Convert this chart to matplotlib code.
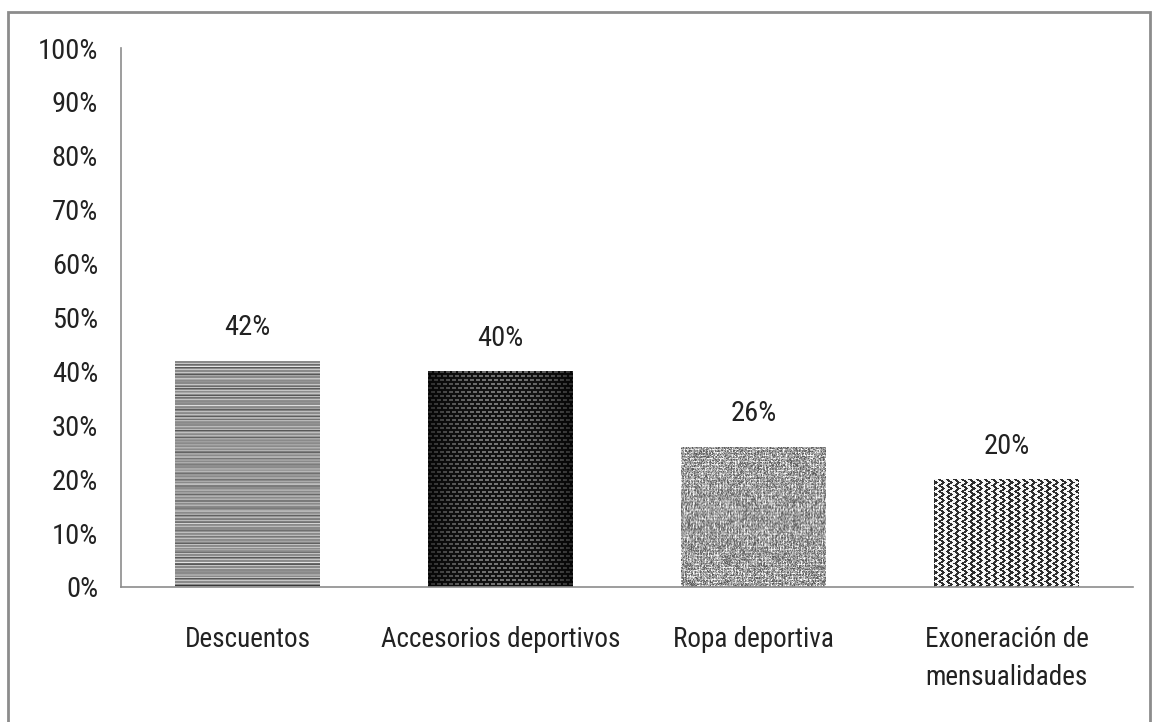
import numpy as np
import matplotlib.pyplot as plt
from matplotlib.patches import Rectangle
from matplotlib import font_manager

categories = ['Descuentos', 'Accesorios deportivos', 'Ropa deportiva', 'Exoneración de\nmensualidades']
values = [42, 40, 26, 20]
ticks = [0, 10, 20, 30, 40, 50, 60, 70, 80, 90, 100]

# narrow sans if one is around
fonts = font_manager.fontManager.ttflist
names = {f.name for f in fonts}
stretch = 'normal'
family = 'DejaVu Sans'
for cand in ['Liberation Sans Narrow', 'Roboto Condensed', 'Open Sans Condensed']:
    if cand in names:
        family = cand
        break
else:
    if any(f.name == 'DejaVu Sans' and f.stretch == 'condensed' for f in fonts):
        stretch = 'condensed'
plt.rcParams['font.family'] = [family, 'DejaVu Sans']
plt.rcParams['font.stretch'] = stretch
fs = 20.5 if family == 'Roboto Condensed' else 16.5
fs_cat = fs - 1

fig = plt.figure(figsize=(11.58, 7.22), dpi=100)
ax = fig.add_axes([0.1045, 0.187, 0.874, 0.7465])

x = np.arange(len(categories))
bars = ax.bar(x, values, width=0.573, color='none', edgecolor='none')

ax.set_xlim(-0.5, len(categories) - 0.5)
ax.set_ylim(0, 100)
ax.set_yticks(ticks)
ax.set_yticklabels([f'{t}%' for t in ticks], fontsize=fs, color='#222222')
ax.set_xticks(x)
ax.set_xticklabels(categories, fontsize=fs_cat, color='#222222', va='top', linespacing=1.55)
ax.tick_params(axis='y', length=0, pad=16.5)
ax.tick_params(axis='x', length=0, pad=28)
for s in ['top', 'right']:
    ax.spines[s].set_visible(False)
for s in ['left', 'bottom']:
    ax.spines[s].set_color('#8c8c8c')
    ax.spines[s].set_linewidth(1.2)


# textures, built in screen pixels for each bar
def hash2(r, c):
    v = np.sin(r * 12.9898 + c * 78.233) * 43758.5453
    return v - np.floor(v)


def tex_lines(h, w):
    r = np.arange(h)[:, None]
    base = 0.62 + 0.16 * np.cos(2 * np.pi * r / 3.0)
    base -= 0.2 * ((r % 7) == 0) + 0.12 * ((r % 11) == 4)
    base += 0.12 * ((r % 13) == 6)
    return np.clip(np.repeat(base, w, axis=1), 0, 1)


def tex_weave(h, w):
    r, c = np.mgrid[0:h, 0:w]
    shift = (r // 4) % 2 * 3
    dash = (((c + shift) % 6) < 4) & ((r % 4) < 2)
    img = 0.07 + 0.33 * dash
    cc = (c - w / 2) / (w / 2)
    shade = 1.15 - 0.75 * cc ** 2
    return np.clip(img * shade, 0, 1)


def tex_noise(h, w):
    r, c = np.mgrid[0:h, 0:w]
    n = hash2(r, c)
    img = 0.33 + 0.45 * n
    img += 0.25 * ((c % 3) == 0) * (hash2(r // 2, c + 7) > 0.55)
    img += 0.25 * ((r % 3) == 0) * (hash2(r + 3, c // 2) > 0.55)
    return np.clip(img, 0, 1)


def tex_zigzag(h, w):
    r, c = np.mgrid[0:h, 0:w]
    tri = np.abs(((r / 6.0) % 1.0) - 0.5) * 2
    d = (c + tri * 4.0) % 7.6
    return np.where(d < 3.4, 0.18, 0.97)


textures = [tex_lines, tex_weave, tex_noise, tex_zigzag]

fig.canvas.draw()
for bar, tex in zip(bars, textures):
    x0, y0 = bar.get_x(), bar.get_y()
    x1, y1 = x0 + bar.get_width(), y0 + bar.get_height()
    (px0, py0), (px1, py1) = ax.transData.transform([(x0, y0), (x1, y1)])
    w = max(int(round(px1 - px0)), 2)
    h = max(int(round(py1 - py0)), 2)
    im = ax.imshow(tex(h, w), cmap='gray', vmin=0, vmax=1, extent=(x0, x1, y0, y1),
                   aspect='auto', interpolation='antialiased', zorder=2)
    im.set_clip_path(bar)

ax.set_xlim(-0.5, len(categories) - 0.5)
ax.set_ylim(0, 100)

for bar, v in zip(bars, values):
    ax.annotate(f'{v}%', (bar.get_x() + bar.get_width() / 2, v), xytext=(0, 14),
                textcoords='offset points', ha='center', va='bottom', fontsize=fs, color='#222222')

# outer frame
fig.patches.append(Rectangle((8 / 1158, -0.02), 1142 / 1158, 1 - 12 / 722 + 0.02,
                             transform=fig.transFigure, fill=False,
                             edgecolor='#8c8c8c', linewidth=2))

fig.savefig('out.png', dpi=100)
